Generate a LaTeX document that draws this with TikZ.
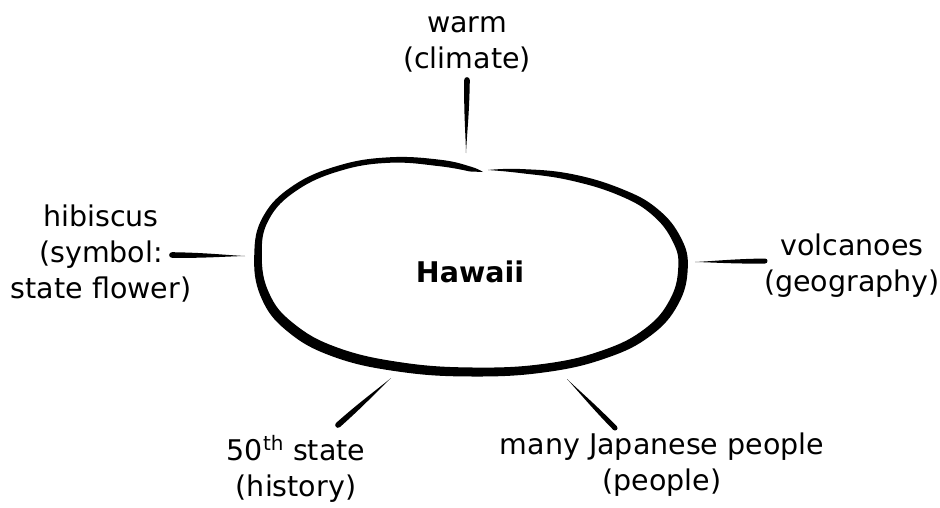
\documentclass[tikz,border=0pt]{standalone}
\usepackage{fontspec}
\setmainfont{DejaVu Sans}
\usetikzlibrary{calc}

% A brush-like stroke: round and thick at #1, running to a point at #2, half width #3
\newcommand\taperstroke[3]{%
  \coordinate (tp-a) at ($(#1)!#3!90:(#2)$);
  \coordinate (tp-b) at ($(#1)!#3!-90:(#2)$);
  \coordinate (tp-f) at ($(#1)!#3!(#2)$);
  \fill (tp-a) .. controls ($(tp-a)+0.45*(#2)-0.45*(#1)$) and ($(#2)!0.3!(tp-a)$) .. (#2)
        .. controls ($(#2)!0.3!(tp-b)$) and ($(tp-b)+0.45*(#2)-0.45*(#1)$) .. (tp-b)
        .. controls ($(tp-b)-1.33*(tp-f)+1.33*(#1)$) and ($(tp-a)-1.33*(tp-f)+1.33*(#1)$) .. (tp-a)
        -- cycle;
}

\begin{document}
\begin{tikzpicture}[x=1pt,y=-1pt,
  tagtext/.style={font=\fontsize{28.5}{36}\selectfont, align=center, anchor=base, inner sep=0pt},
  hub/.style={font=\fontsize{28.5}{34}\selectfont\bfseries, inner sep=0pt}]
\useasboundingbox (0,0) rectangle (940,507);

% centre line of the hand-drawn outline, from the notch round clockwise
\foreach \i/\px/\py in {0/488/170, 1/520/171, 2/570/177, 3/620/192, 4/655/212,
    5/677/240, 6/683/268, 7/674/302, 8/648/332, 9/605/354, 10/545/368,
    11/473/372, 12/400/367, 13/335/352, 14/290/327, 15/265/295, 16/258/255,
    17/266/218, 18/295/188, 19/340/168, 20/390/160, 21/440/163, 22/470/169,
    23/483/172}
  \coordinate (c\i) at (\px,\py);

% both edges of the brush line, offset by half its width
\foreach \i/\w in {1/4, 2/6.5, 3/7, 4/8, 5/9, 6/9.5, 7/9.5, 8/9, 9/8.5, 10/8.5,
    11/9, 12/9.5, 13/10, 14/10, 15/9, 16/7.5, 17/6.5, 18/6, 19/5.5, 20/5.5, 21/6.5, 22/5} {
  \pgfmathtruncatemacro\iprev{\i-1}
  \pgfmathtruncatemacro\inext{\i+1}
  \pgfmathsetmacro\hw{\w/2}
  \coordinate (tmp) at ($(c\iprev)!\hw pt!90:(c\inext)$);
  \coordinate (o\i) at ($(c\i)+(tmp)-(c\iprev)$);
  \coordinate (n\i) at ($(c\i)-(tmp)+(c\iprev)$);
}

\fill plot[smooth, tension=0.7] coordinates {(c0) (o1) (o2) (o3) (o4) (o5) (o6)
    (o7) (o8) (o9) (o10) (o11) (o12) (o13) (o14) (o15) (o16) (o17) (o18) (o19)
    (o20) (o21) (o22) (c23)}
  -- plot[smooth, tension=0.7] coordinates {(n22) (n21) (n20) (n19) (n18) (n17)
    (n16) (n15) (n14) (n13) (n12) (n11) (n10) (n9) (n8) (n7) (n6) (n5) (n4)
    (n3) (n2) (n1) (c0)} -- cycle;

\node[hub] (hawaii) at (470,272) {Hawaii};

% labels, placed by the baseline of their last line
\node[tagtext] (warm) at (467,68) {warm\\(climate)};
\node[tagtext] (hibiscus) at (101,298) {hibiscus\\(symbol:\\state flower)};
\node[tagtext] (volcanoes) at (852,291) {volcanoes\\(geography)};
\node[tagtext] (state) at (296,496) {50\textsuperscript{th} state\\(history)};
\node[tagtext] (japanese) at (662,490) {many Japanese people\\(people)};

% ends of the spokes
\coordinate (warm-end) at (467,80);
\coordinate (warm-tip) at (466,153);
\coordinate (hibiscus-end) at (172,255);
\coordinate (hibiscus-tip) at (245,256);
\coordinate (volcanoes-end) at (765,261);
\coordinate (volcanoes-tip) at (695,262);
\coordinate (state-end) at (338,425);
\coordinate (state-tip) at (391,378);
\coordinate (japanese-end) at (615,428);
\coordinate (japanese-tip) at (567,379);

\taperstroke{warm-end}{warm-tip}{2.8pt}
\taperstroke{hibiscus-end}{hibiscus-tip}{2.8pt}
\taperstroke{volcanoes-end}{volcanoes-tip}{2.5pt}
\taperstroke{state-end}{state-tip}{2.8pt}
\taperstroke{japanese-end}{japanese-tip}{2.5pt}
\end{tikzpicture}
\end{document}
